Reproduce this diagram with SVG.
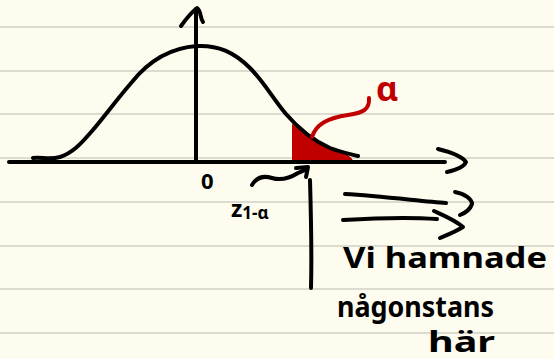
<svg xmlns="http://www.w3.org/2000/svg" width="554" height="359" viewBox="0 0 554 359">
<style>
.ink{fill:none;stroke:#000;stroke-width:4;stroke-linecap:round;stroke-linejoin:round}
.red{fill:none;stroke:#c00000;stroke-width:4;stroke-linecap:round;stroke-linejoin:round}
.rule{stroke:#dcdbd0;stroke-width:2}
.hand{font-family:"Noto Sans","Liberation Sans",sans-serif;fill:#000;font-weight:bold}
</style>
<rect width="554" height="359" fill="#fdfcef"/>
<g id="paper">
<line class="rule" x1="0" y1="27" x2="554" y2="27"/>
<line class="rule" x1="0" y1="71" x2="554" y2="71"/>
<line class="rule" x1="0" y1="114" x2="554" y2="114"/>
<line class="rule" x1="0" y1="158" x2="554" y2="158"/>
<line class="rule" x1="0" y1="202" x2="554" y2="202"/>
<line class="rule" x1="0" y1="246" x2="554" y2="246"/>
<line class="rule" x1="0" y1="289" x2="554" y2="289"/>
<line class="rule" x1="0" y1="333" x2="554" y2="333"/>
</g>
<g id="tail-area">
<path d="M293,127 L293,161 L352,161 C350,156 344,154 336,152 C326,148 318,142 310,136 C302,130 298,126 293,125 Z" fill="#c00000" stroke="#c00000" stroke-width="2" stroke-linejoin="round"/>
</g>
<g id="axes">
<path class="ink" d="M9,162 L445,162"/>
<path class="ink" d="M438,149 C450,152 462,156 466,162 C464,167 456,170 447,172"/>
<path class="ink" d="M196,162 L196,9"/>
<path class="ink" d="M181,26 C186,19 192,12 197,8 C201,10 200,18 203,22"/>
</g>
<g id="curve">
<path class="ink" d="M33,158 C42,157 50,160 60,157 C72,153 80,145 92,131 C104,117 118,98 132,82 C148,62 168,48 197,46 C218,45 234,52 250,68 C264,82 274,100 286,114 C298,128 312,140 330,148 C340,152 350,154 358,156"/>
</g>
<g id="alpha-label">
<path class="red" d="M312,137 C316,124 328,118 348,115 C362,113 370,110 369,98"/>
<text x="376" y="101" font-family="'Noto Sans','Liberation Sans',sans-serif" font-size="34" font-weight="bold" fill="#c00000">α</text>
</g>
<g id="z-label">
<text x="201" y="189" class="hand" font-size="22">0</text>
<path class="ink" d="M252,185 C256,178 262,175 272,178 C282,181 290,178 298,173 C302,171 305,170 307,169"/>
<path class="ink" d="M296,168 L308,167 L306,177"/>
<text x="231" y="217" class="hand" font-size="23">z<tspan font-size="17" dy="2">1-α</tspan></text>
</g>
<g id="divider">
<path class="ink" d="M310,180 C311,215 312,250 311,288"/>
</g>
<g id="arrows">
<path class="ink" d="M345,194 C380,196 420,201 446,203"/>
<path class="ink" d="M455,192 C465,194 472,199 472,204 C470,210 465,213 460,215"/>
<path class="ink" d="M343,220 C375,218 410,217 437,219"/>
<path class="ink" d="M434,211 C445,216 455,220 463,227 C455,232 447,235 440,238"/>
</g>
<g id="note">
<text x="343" y="268" class="hand" font-size="28" textLength="204" lengthAdjust="spacingAndGlyphs">Vi hamnade</text>
<text x="337" y="317" class="hand" font-size="28" textLength="157" lengthAdjust="spacingAndGlyphs">någonstans</text>
<text x="428" y="352" class="hand" font-size="28" textLength="67" lengthAdjust="spacingAndGlyphs">här</text>
</g>
</svg>
